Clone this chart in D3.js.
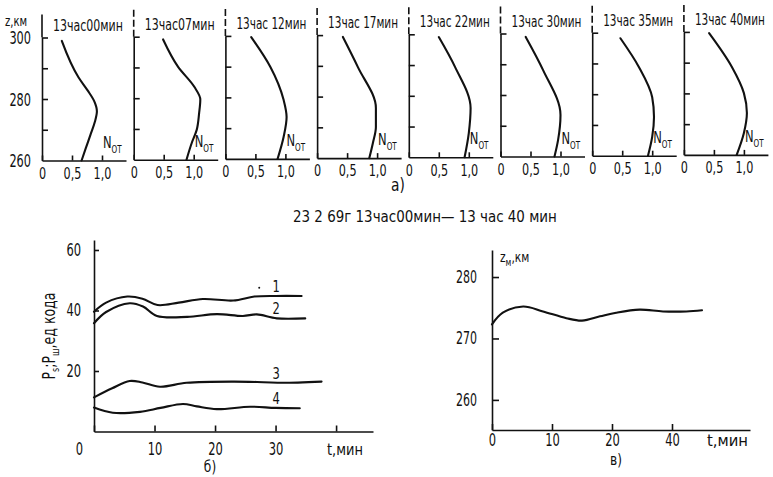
<!DOCTYPE html>
<html>
<head>
<meta charset="utf-8">
<script src="https://cdn.jsdelivr.net/npm/d3@7"></script>
<style>
  body { margin: 0; background: #fff; }
  svg { display: block; }
  text { font-family: "DejaVu Sans Condensed", "DejaVu Sans", sans-serif; fill: #111; }
  .ax path, .ax line { stroke: #111; stroke-width: 1.6; }
  .curve { fill: none; stroke: #111; stroke-width: 2.1; stroke-linejoin: round; stroke-linecap: round; }
</style>
</head>
<body>
<div id="root"></div>
<script>
// ---------- a) N_от profiles, one panel per moment ----------
const panelTitles = ["13час00мин", "13час07мин", "13час 12мин", "13час 17мин",
                     "13час 22мин", "13час 30мин", "13час 35мин", "13час 40мин"];
// [N, z km], bottom to top
const prof00 = [[0.66, 260], [0.73, 264], [0.81, 268.5], [0.88, 272.5], [0.915, 276], [0.87, 279.3], [0.76, 282.8], [0.61, 287], [0.33, 298.9]];
const prof07 = [[0.88, 260], [0.97, 265.6], [1.05, 269.7], [1.09, 275.1], [1.11, 279.6], [1.01, 283.7], [0.74, 290.2], [0.49, 299.1]];
const prof12 = [[0.87, 260], [0.97, 267.1], [1.02, 273.6], [0.97, 279.2], [0.75, 289.9], [0.43, 299.6]];
const prof17 = [[0.87, 260], [0.93, 264.9], [0.98, 270.1], [0.98, 276.3], [0.68, 289.6], [0.43, 299.4]];
const prof22 = [[0.93, 260], [1.00, 267.9], [1.03, 276], [0.77, 289.4], [0.50, 299.1]];
const prof30 = [[0.90, 260], [0.96, 265.4], [1.00, 273.5], [0.71, 288.1], [0.42, 298.9]];
const prof35 = [[0.93, 260], [1.00, 266.1], [1.03, 272.6], [1.00, 279], [0.78, 288.8], [0.47, 298.2]];
const prof40 = [[0.88, 260], [1.00, 267.1], [1.05, 273.6], [1.00, 280.1], [0.80, 288.6], [0.42, 299.6]];
const profiles = [prof00, prof07, prof12, prof17, prof22, prof30, prof35, prof40];
const nTicks = [0, 0.5, 1.0];
const zTicks = [270, 280, 290, 300];
const zLabels = [260, 280, 300];

// ---------- б) P_s, P_ш vs time ----------
const t1 = [0, 2, 5.5, 8, 10.5, 14, 18, 23, 26.5, 30, 34.3];
const p1 = [39.6, 42.6, 44.6, 43.9, 41.8, 42.6, 43.8, 43.3, 44.6, 44.8, 44.8];
const t2 = [0, 2, 5.9, 8.1, 10.4, 15.4, 20.3, 24.6, 26.9, 30.2, 34.9];
const p2 = [35.8, 39.5, 42.4, 41.3, 38.2, 37.9, 38.8, 38.2, 38.7, 37.4, 37.4];
const t3 = [0, 3, 5.9, 8, 10.9, 15.3, 23, 28, 31.2, 37.6];
const p3 = [11.3, 14.3, 16.7, 16.2, 14.8, 16.1, 16.5, 16.3, 16.1, 16.5];
const t4 = [0, 3.1, 7.6, 11, 14.7, 17, 20.3, 25.8, 30, 34];
const p4 = [7.9, 6.2, 6.5, 7.8, 9.1, 8.3, 7.4, 8.2, 7.8, 7.7];
const seriesNames = ["1", "2", "3", "4"];
const bTicksX = [0, 10, 20, 30, 40];
const bTicksY = [20, 40, 60];

// ---------- в) z_м vs time ----------
const tM = [0, 1.8, 5.2, 8.5, 12.4, 15, 18, 20.7, 24.6, 28.5, 32.4, 35];
const zM = [272.3, 274.2, 275.2, 274.4, 273.3, 272.9, 273.6, 274.2, 274.7, 274.4, 274.4, 274.6];
const vTicksX = [0, 10, 20, 30];
const vTickLabels = ["0", "10", "20", "40"];
const vTicksY = [260, 270, 280];

const W = 773, H = 477;
const svg = d3.select("#root").append("svg").attr("width", W).attr("height", H);

const commaFmt = d => d === 0 ? "0" : d.toFixed(1).replace(".", ",");

// the print uses a tall narrow face: squeeze the glyphs sideways
function label(parent, x, y, str, size, sx = 0.8, anchor = "start") {
  return parent.append("text")
    .attr("transform", `translate(${x},${y}) scale(${sx},1)`)
    .attr("text-anchor", anchor).style("font-size", size + "px").text(str);
}
// same, but squeezed to a given width
function fitLabel(parent, x, y, str, size, width) {
  const t = parent.append("text").style("font-size", size + "px").text(str);
  const sx = width / t.node().getComputedTextLength();
  t.attr("transform", `translate(${x},${y}) scale(${sx},1)`);
  return t;
}
function squeeze(axisG, sx, size) {
  axisG.selectAll(".tick text").style("font-size", size + "px")
    .attr("x", function () { return +d3.select(this).attr("x") / sx; })
    .attr("transform", `scale(${sx},1)`);
}

// panels of a)
profiles.forEach((prof, i) => {
  const ax = 42 + i * 91.7;
  const base = 160.5 - 0.8 * i;   // scan is a bit tilted
  const x = d3.scaleLinear().domain([0, 1.4]).range([ax, ax + 84]);
  const y = d3.scaleLinear().domain([260, 300]).range([base, base - 123]);
  const g = svg.append("g");

  g.append("g").attr("class", "ax")
    .attr("transform", `translate(${ax},0)`)
    .call(d3.axisLeft(y).tickValues(zTicks).tickSize(-6).tickSizeOuter(0).tickFormat(""));
  // axis runs on above 300
  g.append("line").attr("x1", ax).attr("x2", ax)
    .attr("y1", y(300)).attr("y2", i === 0 ? y(300) - 23 : y(300) - 27)
    .attr("stroke", "#111").attr("stroke-width", 1.6)
    .attr("stroke-dasharray", i === 0 ? null : "7,3");

  const xa = g.append("g").attr("class", "ax")
    .attr("transform", `translate(0,${base})`)
    .call(d3.axisBottom(x).tickValues(nTicks).tickSize(-5).tickSizeOuter(0).tickPadding(7).tickFormat(commaFmt));
  squeeze(xa, 0.78, 16);

  if (i === 0) {
    zLabels.forEach(z => label(g, ax - 11, y(z) + 6.5, z, 18, 0.7, "end"));
    label(g, 5, 26, "z,км", 14, 0.8);
  }

  g.append("path").attr("class", "curve")
    .attr("d", d3.line().x(d => x(d[0])).y(d => y(d[1])).curve(d3.curveMonotoneY)(prof.slice().reverse()));

  fitLabel(g, ax + 11, base - 130, panelTitles[i], 15, 70);

  const nl = label(g, x(1.0) + 1, base - 13, "N", 16, 0.8);
  nl.append("tspan").attr("dy", 5).style("font-size", "10px").text("ОТ");
});

label(svg, 398, 191, "а)", 18, 0.85, "middle");
fitLabel(svg, 293, 222, "23 2 69г  13час00мин— 13 час 40 мин", 16, 264);

// ---------- б) ----------
{
  const x = d3.scaleLinear().domain([0, 46.1]).range([94, 373]);
  const y = d3.scaleLinear().domain([0, 63.3]).range([431.5, 240]);
  const g = svg.append("g");
  const ya = g.append("g").attr("class", "ax").attr("transform", "translate(94,0)")
    .call(d3.axisLeft(y).tickValues(bTicksY).tickSize(-5).tickSizeOuter(0).tickPadding(13));
  squeeze(ya, 0.75, 17);
  const xa = g.append("g").attr("class", "ax").attr("transform", "translate(0,431.5)")
    .call(d3.axisBottom(x).tickValues(bTicksX).tickSize(-6).tickSizeOuter(0).tickPadding(11)
      .tickFormat(d => d === 40 ? "" : d));
  xa.selectAll(".tick text").filter(d => d === 0).attr("x", -15);
  squeeze(xa, 0.75, 17);

  const line = d3.line().x(d => x(d[0])).y(d => y(d[1])).curve(d3.curveCatmullRom.alpha(0.5));
  const series = [[t1, p1], [t2, p2], [t3, p3], [t4, p4]];
  series.forEach(([ts, ps], k) => {
    const pts = ts.map((t, j) => [t, ps[j]]);
    g.append("path").attr("class", "curve").attr("d", line(pts));
    // label sits just over the curve near t = 30
    const j = d3.bisectLeft(ts, 30);
    const f = (30 - ts[j - 1]) / (ts[j] - ts[j - 1]);
    const v = ps[j - 1] + f * (ps[j] - ps[j - 1]);
    label(g, x(30) - 3, y(v) - 4, seriesNames[k], 16, 0.8);
  });
  // stray dot before label 1 in the print
  g.append("circle").attr("cx", x(27.3)).attr("cy", y(47.5)).attr("r", 1).attr("fill", "#111");

  fitLabel(g, 327, 455, "t,мин", 16, 36);
  label(g, 210, 472, "б)", 16, 0.85, "middle");

  const yl = g.append("text").attr("transform", "translate(55,336) rotate(-90) scale(0.82,1)")
    .attr("text-anchor", "middle").style("font-size", "17px");
  yl.append("tspan").text("P");
  yl.append("tspan").attr("dy", 4).style("font-size", "11px").text("s");
  yl.append("tspan").attr("dy", -4).text(";P");
  yl.append("tspan").attr("dy", 4).style("font-size", "11px").text("ш");
  yl.append("tspan").attr("dy", -4).text(",ед кода");
}

// ---------- в) ----------
{
  const x = d3.scaleLinear().domain([0, 43]).range([492, 750]);
  const y = d3.scaleLinear().domain([255.1, 284.4]).range([430, 250]);
  const g = svg.append("g");
  const ya = g.append("g").attr("class", "ax").attr("transform", "translate(492,0)")
    .call(d3.axisLeft(y).tickValues(vTicksY).tickSize(-7).tickSizeOuter(0).tickPadding(15));
  squeeze(ya, 0.72, 17);
  const xa = g.append("g").attr("class", "ax").attr("transform", "translate(0,430)")
    .call(d3.axisBottom(x).tickValues(vTicksX).tickSize(-6).tickSizeOuter(0).tickPadding(4)
      .tickFormat((d, k) => vTickLabels[k]));
  squeeze(xa, 0.75, 17);

  g.append("path").attr("class", "curve")
    .attr("d", d3.line().x(t => x(t)).y((t, j) => y(zM[j])).curve(d3.curveCatmullRom.alpha(0.5))(tM));

  fitLabel(g, 707, 446, "t,мин", 16, 41);
  label(g, 616, 465, "в)", 16, 0.85, "middle");
  const zl = label(g, 500, 262, "z", 14, 0.85);
  zl.append("tspan").attr("dy", 4).style("font-size", "10px").text("м");
  zl.append("tspan").attr("dy", -4).text(",км");
}
</script>
</body>
</html>
